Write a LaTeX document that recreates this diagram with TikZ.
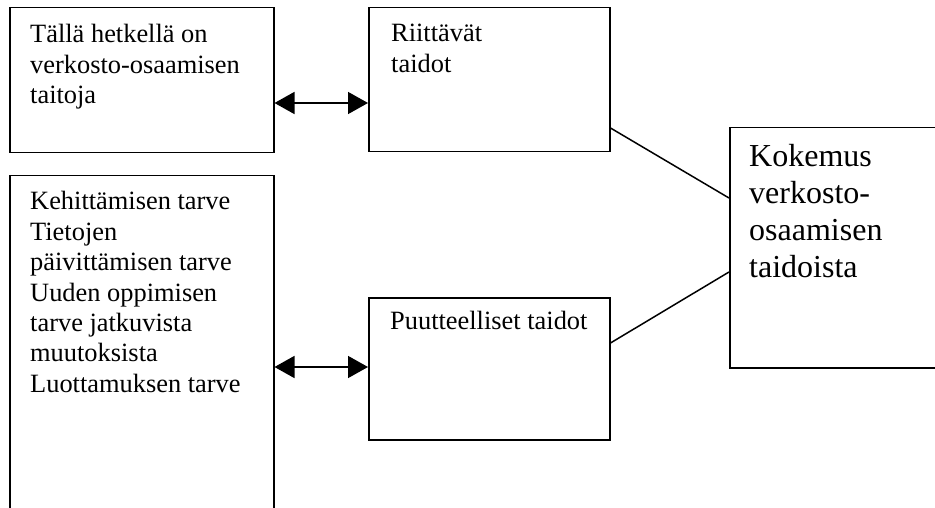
\documentclass[tikz,border=0pt]{standalone}
\usepackage{fontspec}
\setmainfont{Liberation Serif}
\usetikzlibrary{arrows.meta}
% text block whose reference point is the baseline of its first line
\newcommand\boxlines[1]{\begin{tabular}[t]{@{}l@{}}#1\end{tabular}}
\begin{document}
\begin{tikzpicture}[x=1pt,y=-1pt,
  box/.style={draw, line width=1.5pt, rectangle, inner sep=0pt, anchor=north west},
  txt/.style={anchor=base west, inner sep=0pt, font=\fontsize{26.4}{30.4}\selectfont},
  bigtxt/.style={anchor=base west, inner sep=0pt, font=\fontsize{32}{37}\selectfont},
  link/.style={line width=1.5pt},
  twoway/.style={line width=1.5pt, {Triangle[length=20pt,width=22pt]}-{Triangle[length=20pt,width=22pt]}}]
  \useasboundingbox (0,0) rectangle (935,508);
  \clip (0,0) rectangle (935,508);

  % boxes
  \node[box, minimum width=264pt, minimum height=145pt] (now)  at (9,7) {};
  \node[box, minimum width=241pt, minimum height=144pt] (ok)   at (368,7) {};
  \node[box, minimum width=240pt, minimum height=240pt] (exp)  at (729,127) {};
  \node[box, minimum width=264pt, minimum height=400pt] (need) at (9,175) {};
  \node[box, minimum width=241pt, minimum height=142pt] (lack) at (368,297) {};

  % texts
  \node[txt] (nowtxt) at (30,43) {\boxlines{Tällä hetkellä on\\verkosto-osaamisen\\taitoja}};
  \node[txt] (oktxt) at (391,42) {\boxlines{Riittävät\\taidot}};
  \node[bigtxt] (exptxt) at (749,167) {\boxlines{Kokemus\\verkosto-\\osaamisen\\taidoista}};
  \node[txt] (needtxt) at (30,210) {\boxlines{Kehittämisen tarve\\Tietojen\\päivittämisen tarve\\Uuden oppimisen\\tarve jatkuvista\\muutoksista\\Luottamuksen tarve}};
  \node[txt] (lacktxt) at (390,329) {Puutteelliset taidot};

  % rows of the connectors
  \coordinate (toprow) at (0,103);
  \coordinate (lowrow) at (0,367);
  \coordinate (okout) at (0,128);
  \coordinate (expin1) at (0,198);
  \coordinate (lackout) at (0,343);
  \coordinate (expin2) at (0,272);

  % connectors
  \draw[twoway] (now.east |- toprow) -- (ok.west |- toprow);
  \draw[twoway] (need.east |- lowrow) -- (lack.west |- lowrow);
  \draw[link] (ok.east |- okout) -- (exp.west |- expin1);
  \draw[link] (lack.east |- lackout) -- (exp.west |- expin2);
\end{tikzpicture}
\end{document}
